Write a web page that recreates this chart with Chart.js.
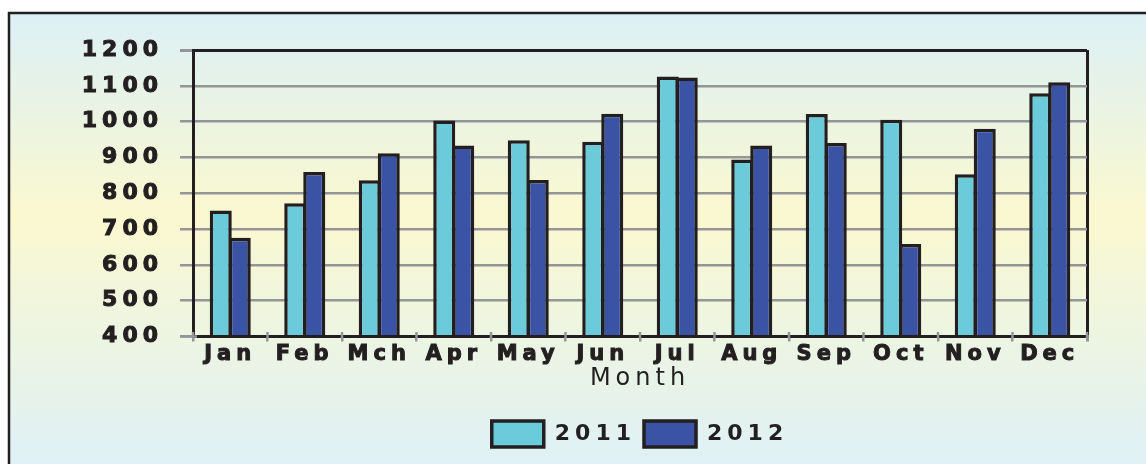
<!DOCTYPE html>
<html>
<head>
<meta charset="utf-8">
<script src="https://cdn.jsdelivr.net/npm/chart.js@4/dist/chart.umd.min.js"></script>
<style>
  body { margin: 0; background: #fff; }
  #wrap { width: 1146px; height: 464px; position: relative; }
</style>
</head>
<body>
<div id="wrap"><canvas id="salesChart"></canvas></div>
<script>
const months = ["Jan", "Feb", "Mch", "Apr", "May", "Jun", "Jul", "Aug", "Sep", "Oct", "Nov", "Dec"];
const values2011 = [752, 772, 836, 1003, 948, 944, 1126, 894, 1021, 1005, 853, 1079];
const values2012 = [676, 859, 912, 933, 837, 1022, 1123, 933, 940, 658, 980, 1110];
const seriesNames = ["2011", "2012"];
const yMin = 400, yMax = 1200, yStep = 50;

const ink = "#231f20";
const gridGray = "#939598";

// wide lettering like the original, plus the framed gradient backdrop
const styling = {
  id: "styling",
  beforeUpdate(chart) { chart.ctx.letterSpacing = "5px"; },
  beforeDraw(chart) {
    const c = chart.ctx;
    c.letterSpacing = "5px";
    c.save();
    c.fillStyle = "#fff";
    c.fillRect(0, 0, chart.width, chart.height);
    const g = c.createLinearGradient(0, 13, 0, chart.height);
    g.addColorStop(0, "#dcf0f6");
    g.addColorStop(0.45, "#faf8cf");
    g.addColorStop(1, "#dff1f6");
    c.fillStyle = g;
    c.fillRect(9, 13, chart.width - 9, chart.height - 13);
    c.strokeStyle = ink;
    c.lineWidth = 2.5;
    c.beginPath();
    c.moveTo(9, chart.height);
    c.lineTo(9, 13);
    c.lineTo(chart.width, 13);
    c.stroke();
    c.restore();
  },
  // tick marks that cross the axis lines
  afterDraw(chart) {
    const c = chart.ctx;
    const x = chart.scales.x, y = chart.scales.y;
    const left = chart.chartArea.left, bottom = chart.chartArea.bottom;
    c.save();
    c.strokeStyle = gridGray;
    c.lineWidth = 2.5;
    c.beginPath();
    y.ticks.forEach(t => {
      const py = y.getPixelForValue(t.value);
      if (t.value % 100 !== 0) {
        c.moveTo(left - 8, py); c.lineTo(left + 9, py);
      } else if (t.value === yMin) {
        c.moveTo(left - 13, py); c.lineTo(left + 4, py);
      }
    });
    const half = (x.getPixelForValue(1) - x.getPixelForValue(0)) / 2;
    for (let i = 0; i <= months.length; i++) {
      const px = x.getPixelForValue(i) - half;
      c.moveTo(px, bottom - 4.5); c.lineTo(px, bottom + 1.5);
    }
    c.stroke();
    c.restore();
  }
};

const ctx = document.getElementById("salesChart").getContext("2d");
new Chart(ctx, {
  type: "bar",
  data: {
    labels: months,
    datasets: [
      { label: seriesNames[0], data: values2011, backgroundColor: "#6bcbdb", borderColor: ink, borderWidth: 3.5 },
      { label: seriesNames[1], data: values2012, backgroundColor: "#3a53a4", borderColor: ink, borderWidth: 3.5 }
    ]
  },
  options: {
    responsive: true,
    maintainAspectRatio: false,
    animation: false,
    categoryPercentage: 0.51,
    barPercentage: 1.16,
    layout: { padding: { left: 0, right: 59, top: 50, bottom: 7 } },
    scales: {
      x: {
        afterFit: s => { s.height = 76.5; },
        grid: {
          color: c => c.type === "scale" ? ink : "transparent",
          lineWidth: c => c.type === "scale" ? 3 : 2.5,
          tickColor: gridGray,
          tickLength: 5
        },
        border: { color: ink, width: 3, z: 1 },
        ticks: {
          color: ink, padding: 0, textStrokeColor: ink, textStrokeWidth: 1,
          font: { family: "DejaVu Sans", size: 21, weight: "bold" }
        },
        title: {
          display: true, text: "Month", color: ink,
          font: { family: "DejaVu Sans", size: 24, weight: "normal" },
          padding: { top: 0, bottom: 20 }
        }
      },
      y: {
        min: yMin, max: yMax,
        afterFit: s => { s.width = 193; },
        grid: {
          color: c => {
            const v = c.tick.value;
            if (v === yMax) return ink;
            if (v === yMin || v % 100 !== 0) return "transparent";
            return gridGray;
          },
          lineWidth: c => c.tick.value === yMax ? 3 : 2.5,
          tickColor: c => c.tick.value % 100 === 0 ? gridGray : "transparent",
          tickLength: 13
        },
        border: { color: ink, width: 3, z: 1 },
        ticks: {
          stepSize: yStep,
          color: ink,
          padding: 17,
          textStrokeColor: ink, textStrokeWidth: 1,
          font: { family: "DejaVu Sans", size: 22, weight: "bold" },
          callback: v => v % 100 === 0 ? v : ""
        }
      }
    },
    plugins: {
      legend: {
        position: "bottom",
        fullSize: false,
        labels: {
          boxWidth: 52, boxHeight: 26, padding: 8, color: ink,
          font: { family: "DejaVu Sans", size: 22, weight: "bold" }
        }
      },
      tooltip: { enabled: false }
    }
  },
  plugins: [styling]
});
</script>
</body>
</html>
